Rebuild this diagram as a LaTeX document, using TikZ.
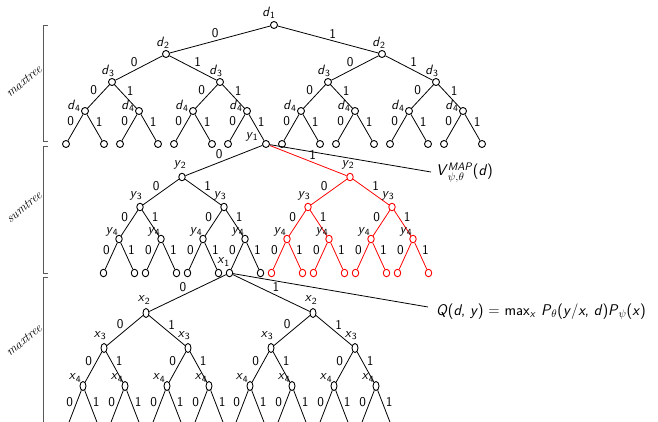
\documentclass[tikz,border=0pt]{standalone}
\usepackage{fontspec}
\usepackage{amsmath}
\usetikzlibrary{calc,shapes.geometric}
\newcommand{\vn}[2]{\textit{#1}$_{\text{#2}}$}
\newcommand{\mklevel}[9]{%
  \foreach \i in {1,...,#4}{%
    \pgfmathtruncatemacro{\p}{(\i+1)/2}%
    \pgfmathtruncatemacro{\b}{1-mod(\i,2)}%
    \pgfmathsetmacro{\dx}{(2*\b-1)*#5}%
    \pgfmathtruncatemacro{\isred}{(\i>#4/2)*\redflag}%
    \ifnum\isred=1 \def\ecol{red}\else\def\ecol{black}\fi
    \node[#7, draw=\ecol] (#1#3-\i) at ($(#1#2-\p)+(\dx,#6)$) {};
    \ifnum\b=0
      \draw[edge,color=\ecol] (#1#2-\p) -- node[el,auto=right]{0} (#1#3-\i);
    \else
      \draw[edge,color=\ecol] (#1#2-\p) -- node[el,auto=left]{1} (#1#3-\i);
    \fi
    \if\relax\detokenize{#8}\relax\else
      \node[nl] (#1#3-\i-l) at ($(#1#3-\i)+(#9)$) {\vn{#8}{#3}};
    \fi
  }}
\begin{document}
\begin{tikzpicture}[x=1pt,y=-1pt,
  font=\sffamily\fontsize{13.5}{16}\selectfont,
  c1/.style={circle,draw,line width=0.9pt,minimum size=7pt,inner sep=0pt},
  c2/.style={ellipse,draw,line width=0.9pt,minimum width=6.5pt,minimum height=7.5pt,inner sep=0pt},
  c3/.style={ellipse,draw,line width=0.9pt,minimum width=6pt,minimum height=9pt,inner sep=0pt},
  edge/.style={line width=0.8pt},
  el/.style={inner sep=1pt,text=black},
  nl/.style={inner sep=0pt,text=black},
  brk/.style={draw=black!65,line width=1pt},
  side/.style={rotate=40,inner sep=0pt,font=\rmfamily\itshape\fontsize{13}{15}\selectfont},
  ann/.style={anchor=base west,inner sep=0pt,font=\sffamily\fontsize{15.5}{18}\selectfont}]
\useasboundingbox (0,0) rectangle (658,422);
\clip (0,0) rectangle (658,422);
% brackets and side labels
\draw[brk] (48,26) -- (43,26) -- (43,142) -- (48,142);
\draw[brk] (48,147) -- (43,147) -- (43,273) -- (48,273);
\draw[brk] (48,277) -- (43,277) -- (43,430);
\node[side] (m1) at (24,81) {maxtree};
\node[side] (s1) at (24,207) {sumtree};
\node[side] (m2) at (24,340) {maxtree};
% tree 1 (d)
\def\redflag{0}
\node[c1] (a1-1) at (274,25) {};
\node[nl] (a1-1-l) at ($(a1-1)+(-5,-12)$) {\vn{d}{1}};
\mklevel{a}{1}{2}{2}{108}{29}{c1}{d}{-3,-11}
\mklevel{a}{2}{3}{4}{54}{28}{c1}{d}{-4,-11}
\mklevel{a}{3}{4}{8}{27}{29}{c1}{d}{-11,-5}
\mklevel{a}{4}{5}{16}{19}{33}{c1}{}{0,0}
% tree 2 (y)
\pgfnodealias{b1-1}{a5-8}
\node[nl] (b1-1-l) at ($(a5-8)+(-14,-7)$) {\vn{y}{1}};
\def\redflag{1}
\mklevel{b}{1}{2}{2}{84}{33}{c2}{y}{-2,-12}
\mklevel{b}{2}{3}{4}{42}{30}{c2}{y}{-4,-11}
\mklevel{b}{3}{4}{8}{21}{32}{c2}{y}{-7,-7}
\mklevel{b}{4}{5}{16}{15.5}{34}{c2}{}{0,0}
% tree 3 (x)
\def\redflag{0}
\pgfnodealias{c1-1}{b5-7}
\node[nl] (c1-1-l) at ($(b5-7)+(-6,-11)$) {\vn{x}{1}};
\mklevel{c}{1}{2}{2}{83.5}{40}{c3}{x}{-2,-13}
\mklevel{c}{2}{3}{4}{42}{35}{c3}{x}{-4,-12}
\mklevel{c}{3}{4}{8}{21}{38}{c3}{x}{-8,-8}
\mklevel{c}{4}{5}{16}{17}{44}{c3}{}{0,0}
% annotations
\coordinate (vend) at (431,172);
\draw[edge] (a5-8) -- (vend);
\node[ann] (vlab) at (436,176) {\textit{V}$^{\text{\textit{MAP}}}_{\psi,\theta}$(\textit{d})};
\coordinate (qend) at (428,307);
\draw[edge] (b5-7) -- (qend);
\node[ann] (qlab) at (436,315) {\textit{Q}(\textit{d}, \textit{y}) = max\textsubscript{\textit{x}} \textit{P}$_{\theta}$(\textit{y}/\textit{x}, \textit{d})\textit{P}$_{\psi}$(\textit{x})};
\end{tikzpicture}
\end{document}
